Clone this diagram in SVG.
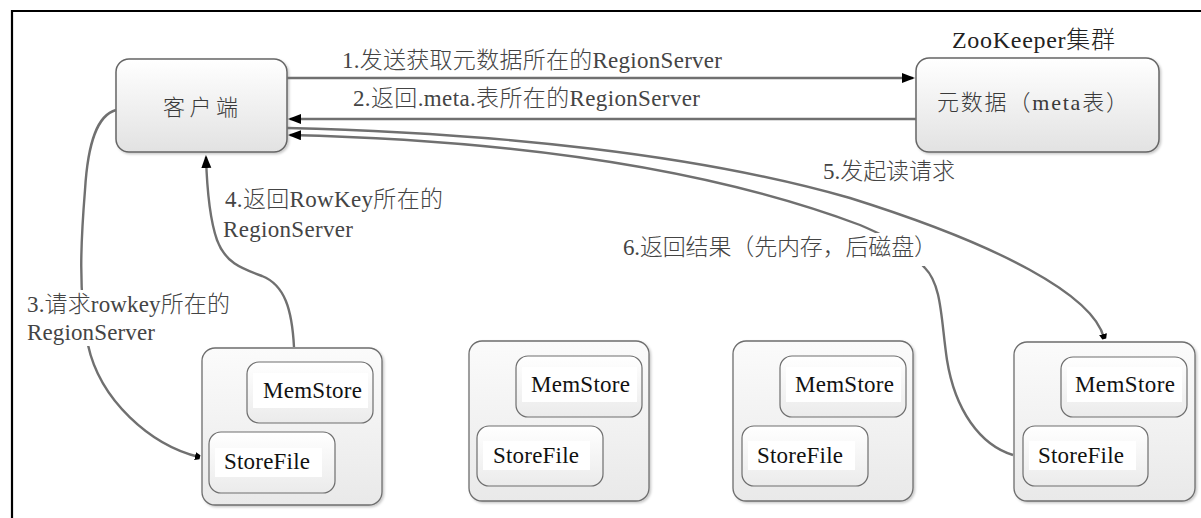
<svg xmlns="http://www.w3.org/2000/svg" width="1201" height="518" viewBox="0 0 1201 518">
<defs>
<linearGradient id="gNode" x1="0" y1="0" x2="0" y2="1">
<stop offset="0" stop-color="#ffffff"/><stop offset="1" stop-color="#e2e2e2"/>
</linearGradient>
<linearGradient id="gRS" x1="0" y1="0" x2="0" y2="1">
<stop offset="0" stop-color="#fbfbfb"/><stop offset="1" stop-color="#e9e9e9"/>
</linearGradient>
<linearGradient id="gIn" x1="0" y1="0" x2="0" y2="1">
<stop offset="0" stop-color="#ffffff"/><stop offset="1" stop-color="#ebebeb"/>
</linearGradient>
<filter id="sh" x="-10%" y="-10%" width="125%" height="125%">
<feDropShadow dx="1.5" dy="1.5" stdDeviation="1" flood-color="#000" flood-opacity="0.22"/>
</filter>
<marker id="ah" markerUnits="userSpaceOnUse" markerWidth="14" markerHeight="12" refX="11" refY="5" orient="auto">
<path d="M0,0 L13,5 L0,10 z" fill="#000"/>
</marker>
<marker id="ahs" markerUnits="userSpaceOnUse" markerWidth="8" markerHeight="12" refX="4" refY="5" orient="auto">
<path d="M0,1 L5,3 L5,7 L0,9 z" fill="#000"/>
</marker>
</defs>
<style>
text{font-family:"Liberation Serif","Times New Roman","Noto Sans CJK SC",serif}
.node{fill:url(#gNode);stroke:#666;stroke-width:1.5;filter:url(#sh)}
.rs{fill:url(#gRS);stroke:#6e6e6e;stroke-width:1.3;filter:url(#sh)}
.in{fill:url(#gIn);stroke:#6e6e6e;stroke-width:1.2}
.tbg{fill:#fff}
.ntxt{font-size:22px;fill:#3a3a3a;font-weight:300}
.st{font-size:23px;fill:#111}
.lbl{font-size:23px;fill:#444;font-weight:300}
.c{fill:none;stroke:#707070;stroke-width:2.4}
</style>
<rect width="1201" height="518" fill="#fff"/>
<path d="M12,518 L12,11 L1201,11" fill="none" stroke="#000" stroke-width="2.2"/>

<g id="client">
<rect class="node" x="116" y="59" width="171" height="93" rx="13"/>
<text class="ntxt" x="163" y="115" textLength="75" lengthAdjust="spacing">客户端</text>
</g>

<g id="zookeeper">
<text class="lbl" x="952" y="48" textLength="163" lengthAdjust="spacing" style="fill:#222;font-size:24px">ZooKeeper集群</text>
<rect class="node" x="916" y="58" width="243" height="94" rx="13"/>
<text class="ntxt" x="937" y="110" textLength="191" lengthAdjust="spacing">元数据（meta表）</text>
</g>

<g id="rs1" transform="translate(202,348)">
<rect class="rs" x="0" y="0" width="180" height="157" rx="13"/>
<rect class="in" x="45" y="14" width="126" height="61" rx="12"/>
<rect class="tbg" x="51" y="25" width="115" height="35"/>
<text class="st" x="61" y="50" textLength="99" lengthAdjust="spacing">MemStore</text>
<rect class="in" x="7" y="84" width="126" height="61" rx="12"/>
<rect class="tbg" x="13" y="100" width="107" height="29"/>
<text class="st" x="22" y="121" textLength="86" lengthAdjust="spacing">StoreFile</text>
</g>

<g id="rs2" transform="translate(469,341)">
<rect class="rs" x="0" y="0" width="180" height="160" rx="13"/>
<rect class="in" x="47" y="15" width="126" height="61" rx="12"/>
<rect class="tbg" x="53" y="26" width="115" height="35"/>
<text class="st" x="62" y="51" textLength="99" lengthAdjust="spacing">MemStore</text>
<rect class="in" x="8" y="85" width="126" height="60" rx="12"/>
<rect class="tbg" x="14" y="100" width="107" height="29"/>
<text class="st" x="24" y="122" textLength="86" lengthAdjust="spacing">StoreFile</text>
</g>

<g id="rs3" transform="translate(733,341)">
<rect class="rs" x="0" y="0" width="180" height="160" rx="13"/>
<rect class="in" x="47" y="15" width="126" height="61" rx="12"/>
<rect class="tbg" x="53" y="26" width="115" height="35"/>
<text class="st" x="62" y="51" textLength="99" lengthAdjust="spacing">MemStore</text>
<rect class="in" x="9" y="85" width="126" height="60" rx="12"/>
<rect class="tbg" x="15" y="100" width="107" height="29"/>
<text class="st" x="24" y="122" textLength="86" lengthAdjust="spacing">StoreFile</text>
</g>

<g id="rs4" transform="translate(1014,342)">
<rect class="rs" x="0" y="0" width="181" height="159" rx="13"/>
<rect class="in" x="47" y="15" width="126" height="60" rx="12"/>
<rect class="tbg" x="53" y="25" width="115" height="35"/>
<text class="st" x="61" y="50" textLength="100" lengthAdjust="spacing">MemStore</text>
<rect class="in" x="9" y="84" width="125" height="60" rx="12"/>
<rect class="tbg" x="15" y="99" width="107" height="29"/>
<text class="st" x="24" y="121" textLength="86" lengthAdjust="spacing">StoreFile</text>
</g>

<g id="connectors">
<path class="c" d="M287,78 L913,78" marker-end="url(#ah)"/>
<path class="c" d="M916,119 L290,119" marker-end="url(#ah)"/>
<path class="c" d="M287,128 C500,133 700,155 850,198 C1000,245 1093,295 1104,338" marker-end="url(#ahs)"/>
<path class="c" d="M1013,455 C980,445 955,410 947,360 C941,320 942,285 925,268 C905,245 890,238 860,225 C700,165 500,140 290,135" marker-end="url(#ah)"/>
<path class="c" d="M116,110 C98,115 88,140 85,190 C81,240 78,290 88,345 C100,400 150,445 199,457" marker-end="url(#ahs)"/>
<path class="c" d="M294,347 C292,310 285,285 262,276 C240,268 225,262 217,240 C210,220 207,190 206,157" marker-end="url(#ah)"/>

<text class="lbl" x="342" y="68" textLength="380" lengthAdjust="spacing">1.发送获取元数据所在的RegionServer</text>
<text class="lbl" x="353" y="106" textLength="347" lengthAdjust="spacing">2.返回.meta.表所在的RegionServer</text>
<rect class="tbg" x="24" y="290" width="210" height="56"/>
<text class="lbl" x="27" y="312" textLength="203" lengthAdjust="spacing">3.请求rowkey所在的</text>
<text class="lbl" x="27" y="340" textLength="128" lengthAdjust="spacing">RegionServer</text>
<text class="lbl" x="225" y="207" textLength="218" lengthAdjust="spacing">4.返回RowKey所在的</text>
<text class="lbl" x="223" y="237" textLength="130" lengthAdjust="spacing">RegionServer</text>
<text class="lbl" x="823" y="179" textLength="132" lengthAdjust="spacing">5.发起读请求</text>
<rect class="tbg" x="618" y="233" width="322" height="33"/>
<text class="lbl" x="623" y="255" textLength="314" lengthAdjust="spacing">6.返回结果（先内存，后磁盘）</text>
</g>
</svg>
